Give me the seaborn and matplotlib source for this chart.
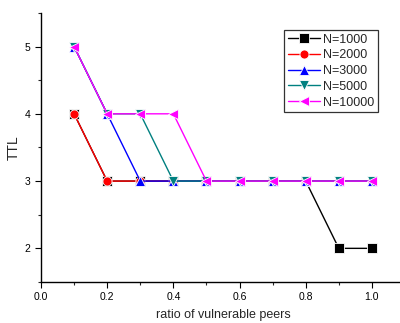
import numpy as np
import pandas as pd
import matplotlib
matplotlib.use("Agg")
import matplotlib.pyplot as plt
from matplotlib.ticker import MultipleLocator
import seaborn as sns

# ========= Data =========
ratio = [0.1, 0.2, 0.3, 0.4, 0.5, 0.6, 0.7, 0.8, 0.9, 1.0]
ttl_1000 = [4, 3, 3, 3, 3, 3, 3, 3, 2, 2]
ttl_2000 = [4, 3, 3, 3, 3, 3, 3, 3, 3, 3]
ttl_3000 = [5, 4, 3, 3, 3, 3, 3, 3, 3, 3]
ttl_5000 = [5, 4, 4, 3, 3, 3, 3, 3, 3, 3]
ttl_10000 = [5, 4, 4, 4, 3, 3, 3, 3, 3, 3]

labels = ["N=1000", "N=2000", "N=3000", "N=5000", "N=10000"]
series = [ttl_1000, ttl_2000, ttl_3000, ttl_5000, ttl_10000]
colors = ["#000000", "#ff0000", "#0000ff", "#008080", "#ff00ff"]
markers = ["s", "o", "^", "v", "<"]

rows = []
for lab, vals in zip(labels, series):
    for r, v in zip(ratio, vals):
        rows.append({"ratio": r, "TTL": v, "N": lab})
df = pd.DataFrame(rows)

# ========= Plot =========
sns.set_style("ticks")
plt.rcParams["font.family"] = ["Liberation Sans", "DejaVu Sans"]

fig = plt.figure(figsize=(4.0, 3.23), dpi=100)
ax = fig.add_axes([0.1025, 0.127, 0.91, 0.833])

sns.lineplot(data=df, x="ratio", y="TTL", hue="N", style="N",
             hue_order=labels, style_order=labels,
             palette=dict(zip(labels, colors)),
             markers=dict(zip(labels, markers)), dashes=False,
             markersize=6.5, markeredgewidth=0.6, linewidth=1.0, ax=ax)

ax.set_xlim(0, 1.1)
ax.set_ylim(1.5, 5.5)
ax.xaxis.set_major_locator(MultipleLocator(0.2))
ax.xaxis.set_minor_locator(MultipleLocator(0.1))
ax.yaxis.set_major_locator(MultipleLocator(1))
ax.yaxis.set_minor_locator(MultipleLocator(0.5))
ax.set_xticklabels([f"{t:.1f}" for t in ax.get_xticks()])
ax.tick_params(which="major", direction="out", length=4, width=0.8, labelsize=7.5, colors="black")
ax.tick_params(which="minor", direction="out", length=2.5, width=0.8)
ax.set_xlim(0, 1.1)

sns.despine(ax=ax)
for s in ["left", "bottom"]:
    ax.spines[s].set_linewidth(1.0)
    ax.spines[s].set_color("black")

ax.set_xlabel("ratio of vulnerable peers", fontsize=9, labelpad=5)
ax.set_ylabel("TTL", fontsize=10, labelpad=3)

leg = ax.legend(loc="upper left", bbox_to_anchor=(0.668, 0.937), fontsize=9,
                frameon=True, fancybox=False, borderpad=0.3, labelspacing=0.3,
                handlelength=2.6, handletextpad=0.2, borderaxespad=0)
leg.get_frame().set_edgecolor("black")
leg.get_frame().set_linewidth(0.9)

fig.savefig("out.png", dpi=100)
